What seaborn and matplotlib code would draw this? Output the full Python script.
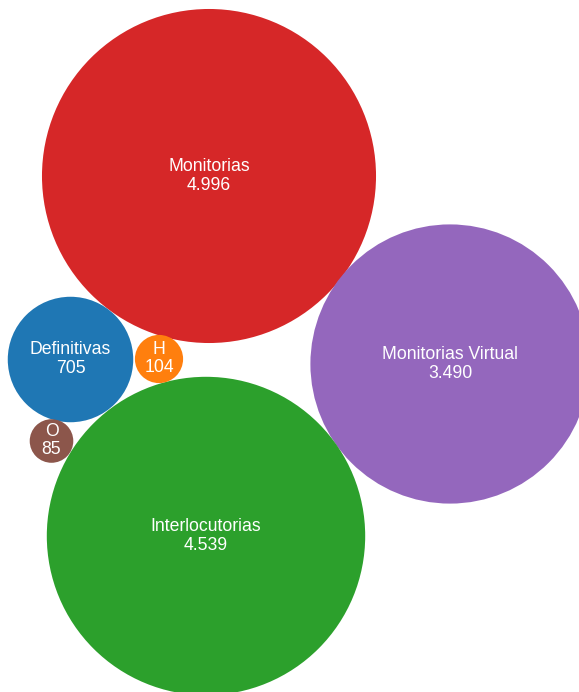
import matplotlib
matplotlib.use('Agg')
import matplotlib.pyplot as plt
import seaborn as sns
import pandas as pd

# data
categories = ['Monitorias', 'Monitorias Virtual', 'Interlocutorias', 'Definitivas', 'H', 'O']
values = [4996, 3490, 4539, 705, 104, 85]
# bubble layout (pack positions, pixel space)
pos_x = [209, 450, 206, 70.5, 159, 51.5]
pos_y = [176, 364, 536, 359.5, 359, 441]
colors = ['#d62728', '#9467bd', '#2ca02c', '#1f77b4', '#ff7f0e', '#8c564b']

df = pd.DataFrame({'label': categories, 'value': values, 'x': pos_x, 'y': pos_y})

sns.set_theme(style='white')
plt.rcParams['font.family'] = ['Liberation Sans', 'DejaVu Sans']

fig = plt.figure(figsize=(5.79, 6.92), dpi=100)
ax = fig.add_axes([0, 0, 1, 1])

# radius px = k * sqrt(value); marker area in pt^2 = (2 * r * 0.72)^2
k = 2.363
area_per_unit = (2 * k * 0.72) ** 2
vmin, vmax = min(values), max(values)
sns.scatterplot(data=df, x='x', y='y', hue='label', palette=dict(zip(categories, colors)),
                size='value', sizes=(vmin * area_per_unit, vmax * area_per_unit),
                size_norm=(vmin, vmax), linewidth=0, alpha=1, legend=False, ax=ax)

for _, row in df.iterrows():
    num = f"{row['value']:,}".replace(',', '.')
    ax.text(row['x'], row['y'] - 5, row['label'], color='white', ha='center',
            va='baseline', fontsize=12.7)
    ax.text(row['x'], row['y'] + 13.5, num, color='white', ha='center',
            va='baseline', fontsize=12.7)

ax.set_xlim(0, 579)
ax.set_ylim(692, 0)
ax.set_axis_off()

plt.savefig('out.png', dpi=100)
